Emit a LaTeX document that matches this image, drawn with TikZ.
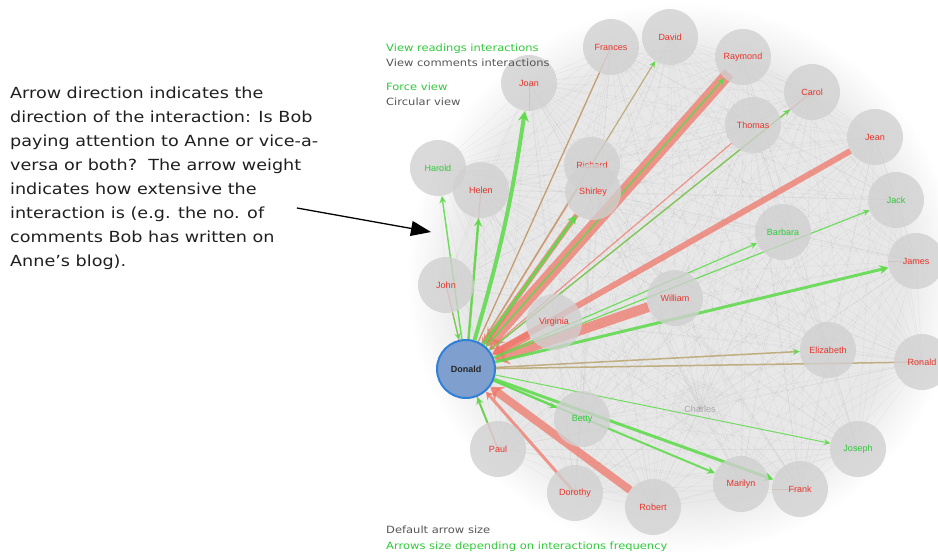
\documentclass[tikz,border=0pt]{standalone}
\usepackage{fontspec}
\setmainfont{DejaVu Sans}
\newfontfamily\notefont[FakeStretch=1.15]{DejaVu Sans}
\newfontfamily\labelfont{Liberation Sans}
\usetikzlibrary{arrows.meta,fadings}

\definecolor{lblred}{HTML}{E8352B}
\definecolor{lblgreen}{HTML}{2FC93A}
\definecolor{bandred}{HTML}{F07466}
\definecolor{arrgreen}{HTML}{5CDA48}
\definecolor{edgetan}{HTML}{B9A46E}
\definecolor{nodegray}{HTML}{D0D0D0}
\definecolor{donfill}{HTML}{7FA0CE}
\definecolor{donedge}{HTML}{2F80D8}
\definecolor{legendgray}{HTML}{555555}

\pgfdeclarelayer{bg}
\pgfdeclarelayer{edges}
\pgfsetlayers{bg,edges,main}

\tikzset{
  person/.style={circle, minimum size=56pt, inner sep=0pt, fill=nodegray,
    fill opacity=0.78, text opacity=1, font=\labelfont\fontsize{9}{10}\selectfont},
  redname/.style={person, text=lblred},
  greenname/.style={person, text=lblgreen},
  webline/.style={draw=black, opacity=0.018, line width=0.5pt},
  redin/.style={draw=bandred, opacity=0.72, line width=#1,
    -{Stealth[length=5pt 0.9, width=4pt 1.6]}},
  redthin/.style={draw=bandred, opacity=0.75, line width=#1},
  greenout/.style={draw=arrgreen, opacity=0.85, line width=#1,
    -{Stealth[length=5pt 1.4, width=4pt 1.8]}},
  tanout/.style={draw=edgetan, opacity=0.85, line width=#1,
    -{Stealth[length=5pt 1.4, width=4pt 1.8, color=arrgreen]}},
  tanline/.style={draw=edgetan, opacity=0.85, line width=#1},
  legendtxt/.style={anchor=base west, inner sep=0pt, font=\notefont\fontsize{10}{12}\selectfont},
}

\begin{document}
\begin{tikzpicture}[x=1pt, y=-1pt]
\useasboundingbox (0,0) rectangle (938,554);
\clip (0,0) rectangle (938,554);

% people around the network
\node[redname] (Frances) at (611,47) {Frances};
\node[redname] (David) at (670,37) {David};
\node[redname] (Raymond) at (743,57) {Raymond};
\node[redname] (Carol) at (812,92) {Carol};
\node[redname] (Thomas) at (753,125) {Thomas};
\node[redname] (Jean) at (875,137) {Jean};
\node[redname] (Joan) at (529,83) {Joan};
\node[greenname] (Harold) at (438,168) {Harold};
\node[redname] (Helen) at (481,190) {Helen};
\node[redname] (Richard) at (592,165) {Richard};
\node[redname] (Shirley) at (593,192) {Shirley};
\node[greenname] (Jack) at (896,200) {Jack};
\node[greenname] (Barbara) at (783,232) {Barbara};
\node[redname] (James) at (916,261) {James};
\node[redname] (John) at (446,285) {John};
\node[redname] (William) at (675,298) {William};
\node[redname] (Virginia) at (554,322) {Virginia};
\node[redname] (Elizabeth) at (828,350) {Elizabeth};
\node[redname] (Ronald) at (922,362) {Ronald};
\node[person, fill opacity=0.12, text=black!35] (Charles) at (700,409) {Charles};
\node[greenname] (Betty) at (582,419) {Betty};
\node[greenname] (Joseph) at (858,449) {Joseph};
\node[redname] (Paul) at (498,449) {Paul};
\node[redname] (Dorothy) at (575,493) {Dorothy};
\node[redname] (Robert) at (653,507) {Robert};
\node[redname] (Marilyn) at (741,484) {Marilyn};
\node[redname] (Frank) at (800,489) {Frank};

\node[circle, minimum size=58pt, inner sep=0pt, fill=donfill, draw=donedge,
  line width=2pt, text=black!85, font=\labelfont\bfseries\fontsize{9}{10}\selectfont]
  (Donald) at (466,369) {Donald};

% faint web of all interactions behind the graph
\begin{pgfonlayer}{bg}
  \fill[black!9, path fading=circle with fuzzy edge 20 percent] (683,278) circle (275);
  \foreach \a in {Frances,David,Raymond,Carol,Thomas,Jean,Joan,Harold,Helen,Richard,Shirley,Jack,Barbara,James,John,William,Virginia,Elizabeth,Ronald,Charles,Betty,Joseph,Paul,Dorothy,Robert,Marilyn,Frank}{
    \foreach \b in {Frances,David,Raymond,Carol,Thomas,Jean,Joan,Harold,Helen,Richard,Shirley,Jack,Barbara,James,John,William,Virginia,Elizabeth,Ronald,Charles,Betty,Joseph,Paul,Dorothy,Robert,Marilyn,Frank}{
      \draw[webline] (\a.center) -- (\b.center);
    }
  }
\end{pgfonlayer}

% Donald's interactions
\begin{pgfonlayer}{edges}
  % incoming (comments on Donald's blog)
  \draw[redin=12] (Raymond.center) ++(-14,16) -- (Donald);
  \draw[redin=6] (Jean) -- (Donald);
  \draw[redin=10] (William) -- (Donald);
  \draw[redin=8] (Virginia) -- (Donald);
  \draw[redin=5] (Shirley) -- (Donald);
  \draw[redin=1.5] (Richard) -- (Donald);
  \draw[redin=1.2] (Thomas) -- (Donald);
  \draw[redin=1.2] (Carol.center) -- (Donald);
  \draw[redin=8] (Robert) -- (Donald);
  \draw[redin=3] (Dorothy.center) -- (Donald);
  \draw[redthin=1.5] (Paul.center) -- (Donald);
  \draw[redthin=1.2] (John.center) -- (Donald);
  \draw[redthin=1] (Helen.center) -- (Donald);
  \draw[redthin=1] (Frances.center) -- (Donald);
  \draw[redthin=1] (Joan.center) -- (Joan.south);
  \draw[redthin=1] (James.center) -- (James.west);
  \draw[redthin=1] (Frank.center) -- (Frank.west);
  % outgoing (Donald reading the others)
  \draw[greenout=4] (Donald) to[bend right=4] (Joan);
  \draw[greenout=1.5] (Donald) -- (Harold);
  \draw[greenout=2.5] (Donald) -- (Helen);
  \draw[tanline=1.2] (Donald) -- (Frances);
  \draw[tanout=1.2] (Donald) -- (David);
  \draw[greenout=1.5] (Donald) -- (Raymond);
  \draw[greenout=1.2] (Donald) -- (Carol);
  \draw[greenout=3] (Donald) -- (Shirley);
  \draw[greenout=1.2] (Donald) -- (Barbara);
  \draw[greenout=1.2] (Donald) -- (Jack);
  \draw[greenout=3] (Donald) -- (James);
  \draw[tanout=1.5] (Donald) -- (Elizabeth);
  \draw[tanline=1.5] (Donald) -- (Ronald.center);
  \draw[greenout=1] (Donald) -- (Joseph);
  \draw[greenout=1.2] (Donald) -- (Betty);
  \draw[greenout=2] (Donald) -- (Marilyn);
  \draw[greenout=3] (Donald) -- (Frank);
  \draw[greenout=2] (Paul) -- (Donald);
  \draw[greenout=1.2] (John) -- (Donald);
\end{pgfonlayer}

% view switches
\node[legendtxt, text=lblgreen] (readings) at (386,51) {View readings interactions};
\node[legendtxt, text=legendgray] (comments) at (386,66) {View comments interactions};
\node[legendtxt, text=lblgreen] (forceview) at (386,90) {Force view};
\node[legendtxt, text=legendgray] (circview) at (386,105) {Circular view};
\node[legendtxt, text=legendgray] (defsize) at (386,533) {Default arrow size};
\node[legendtxt, text=lblgreen] (freqsize) at (386,549) {Arrows size depending on interactions frequency};

% explanation with pointer
\node[anchor=north west, inner sep=0pt, align=left, text=black!88,
  font=\notefont\fontsize{15.3}{24}\selectfont] (note) at (10,87)
  {Arrow direction indicates the\\
   direction of the interaction: Is Bob\\
   paying attention to Anne or vice-a-\\
   versa or both?\ \ The arrow weight\\
   indicates how extensive the\\
   interaction is (e.g. the no. of\\
   comments Bob has written on\\
   Anne’s blog).};
\coordinate (pointerTail) at (297,208);
\coordinate (pointerTip) at (431,232);
\draw[line width=1.3pt, -{Triangle[length=20pt, width=15pt]}] (pointerTail) -- (pointerTip);
\end{tikzpicture}
\end{document}
